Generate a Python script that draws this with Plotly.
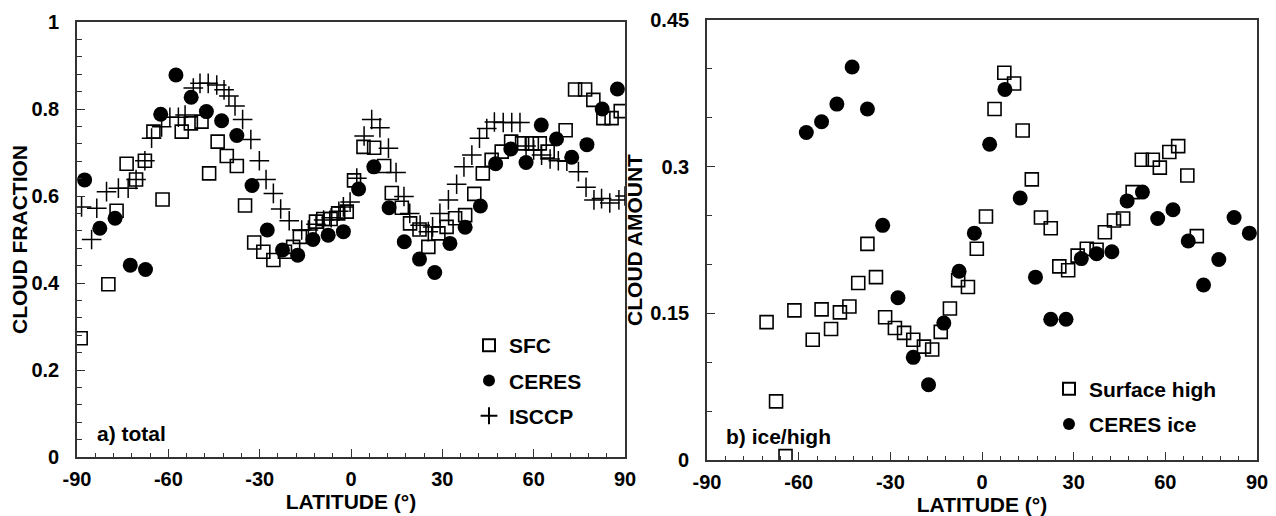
import plotly.graph_objects as go

# ---------------- Panel a) total cloud fraction ----------------
sfc_lat = [-88.8, -79.7, -77.0, -73.7, -70.6, -67.7, -64.9, -61.9, -55.6, -52.6,
           -49.1, -46.6, -43.8, -40.8, -37.5, -34.8, -31.8, -28.8, -25.5, -21.7,
           -19.0, -16.8, -11.5, -9.1, -6.7, -4.2, -1.4, 1.0, 4.1, 7.6,
           10.9, 13.4, 16.7, 19.4, 22.5, 25.4, 28.7, 31.4, 34.2, 37.5,
           40.5, 43.3, 46.2, 49.5, 52.6, 56.2, 59.4, 62.0, 64.6, 70.5,
           73.6, 76.9, 79.6, 82.9, 85.6, 88.6]
sfc_val = [0.273, 0.397, 0.566, 0.674, 0.638, 0.681, 0.748, 0.592, 0.748, 0.767,
           0.771, 0.652, 0.725, 0.692, 0.669, 0.578, 0.493, 0.472, 0.453, 0.472,
           0.483, 0.506, 0.541, 0.547, 0.547, 0.560, 0.564, 0.636, 0.713, 0.711,
           0.669, 0.607, 0.573, 0.537, 0.523, 0.483, 0.514, 0.529, 0.549, 0.556,
           0.605, 0.652, 0.683, 0.702, 0.725, 0.721, 0.721, 0.721, 0.702, 0.751,
           0.845, 0.845, 0.821, 0.779, 0.779, 0.795]

ceres_lat = [-87.5, -82.5, -77.5, -72.5, -67.5, -62.5, -57.5, -52.5, -47.5, -42.5,
             -37.5, -32.5, -27.5, -22.5, -17.5, -12.5, -7.5, -2.5, 2.5, 7.5,
             12.5, 17.5, 22.5, 27.5, 32.5, 37.5, 42.5, 47.5, 52.5, 57.5,
             62.5, 67.5, 72.5, 77.5, 82.5, 87.5]
ceres_val = [0.637, 0.526, 0.549, 0.441, 0.431, 0.788, 0.878, 0.827, 0.794, 0.773,
             0.739, 0.624, 0.522, 0.476, 0.464, 0.500, 0.510, 0.518, 0.616, 0.667,
             0.573, 0.495, 0.455, 0.424, 0.491, 0.528, 0.577, 0.674, 0.708, 0.677,
             0.763, 0.731, 0.689, 0.718, 0.800, 0.846]

isccp_lat = [-88.5, -85.2, -83.5, -80.3, -76.4, -73.2, -70.6, -67.7, -65.5, -62.2,
             -59.5, -56.7, -54.5, -51.8, -49.6, -46.9, -44.1, -41.7, -40.1, -38.1,
             -35.6, -32.9, -30.1, -27.9, -25.5, -23.1, -20.3, -16.2, -14.0, -11.5,
             -9.0, -6.5, -4.0, -2.5, -0.3, 1.9, 4.3, 6.8, 9.5, 12.3,
             14.8, 17.4, 19.3, 22.7, 25.4, 26.8, 29.2, 32.0, 34.7, 37.1,
             39.7, 42.2, 44.6, 47.1, 50.0, 52.8, 55.5, 57.5, 60.0, 62.6,
             65.4, 68.1, 70.9, 74.7, 77.2, 79.8, 82.3, 85.0, 88.0, 90.0]
isccp_val = [0.575, 0.500, 0.572, 0.610, 0.618, 0.618, 0.638, 0.681, 0.733, 0.759,
             0.781, 0.781, 0.786, 0.848, 0.859, 0.859, 0.855, 0.844, 0.830, 0.807,
             0.776, 0.730, 0.681, 0.638, 0.606, 0.570, 0.543, 0.522, 0.522, 0.535,
             0.545, 0.550, 0.565, 0.575, 0.586, 0.641, 0.738, 0.776, 0.757, 0.710,
             0.654, 0.599, 0.560, 0.533, 0.518, 0.529, 0.560, 0.591, 0.627, 0.667,
             0.694, 0.733, 0.755, 0.770, 0.769, 0.769, 0.769, 0.715, 0.706, 0.694,
             0.685, 0.681, 0.680, 0.656, 0.620, 0.591, 0.594, 0.584, 0.591, 0.600]

# ---------------- Panel b) ice / high cloud amount ----------------
sh_lat = [-70.5, -67.4, -64.3, -61.4, -55.4, -52.5, -49.4, -46.5, -43.4, -40.5,
          -37.5, -34.7, -31.7, -28.5, -25.5, -22.5, -19.0, -16.3, -13.5, -10.5,
          -7.8, -4.6, -1.7, 1.3, 4.1, 7.3, 10.5, 13.3, 16.3, 19.3,
          22.5, 25.3, 28.2, 31.3, 34.3, 37.5, 40.2, 43.2, 46.2, 49.3,
          52.3, 55.9, 58.2, 61.3, 64.2, 67.2, 70.3]
sh_val = [0.141, 0.060, 0.004, 0.153, 0.123, 0.154, 0.134, 0.151, 0.157, 0.181,
          0.221, 0.187, 0.146, 0.135, 0.130, 0.123, 0.116, 0.113, 0.131, 0.155,
          0.184, 0.177, 0.216, 0.249, 0.359, 0.396, 0.385, 0.337, 0.287, 0.248,
          0.237, 0.198, 0.194, 0.209, 0.216, 0.215, 0.233, 0.245, 0.247, 0.274,
          0.307, 0.307, 0.299, 0.315, 0.321, 0.291, 0.229]

ice_lat = [-57.5, -52.5, -47.5, -42.5, -37.5, -32.5, -27.5, -22.5, -17.5, -12.5,
           -7.5, -2.5, 2.5, 7.5, 12.5, 17.5, 22.5, 27.5, 32.5, 37.5,
           42.5, 47.5, 52.5, 57.5, 62.5, 67.5, 72.5, 77.5, 82.5, 87.5]
ice_val = [0.335, 0.346, 0.364, 0.402, 0.359, 0.240, 0.166, 0.105, 0.077, 0.140,
           0.193, 0.232, 0.323, 0.379, 0.268, 0.187, 0.144, 0.144, 0.206, 0.211,
           0.213, 0.265, 0.274, 0.247, 0.256, 0.224, 0.179, 0.205, 0.248, 0.232]

x_ticks = [-90, -60, -30, 0, 30, 60, 90]
x_tick_labels = ["-90", "-60", "-30", "0", "30", "60", "90"]
ya_ticks = [0, 0.2, 0.4, 0.6, 0.8, 1]
ya_tick_labels = ["0", "0.2", "0.4", "0.6", "0.8", "1"]
yb_ticks = [0, 0.15, 0.3, 0.45]
yb_tick_labels = ["0", "0.15", "0.3", "0.45"]

FONT = "Liberation Sans, Arial, Helvetica, sans-serif"
INK = "#000000"
AXIS_C = "#333333"
# the page body adds an 8 px margin, so the figure is 8 px smaller than the window
OFF = 8
W, H = 1276 - OFF, 516 - OFF


def px_x(p):
    return (p - OFF) / W


def px_y(p):
    return 1 - (p - OFF) / H


sq = dict(symbol="square-open", size=13, color=INK, line=dict(width=1.6, color=INK))
dot = dict(symbol="circle", size=15, color=INK, line=dict(width=0))
plus = dict(symbol="cross-thin-open", size=14, color=INK, line=dict(width=1.5, color=INK))

fig = go.Figure()
fig.add_trace(go.Scatter(x=sfc_lat, y=sfc_val, mode="markers", name="SFC", marker=sq,
                         xaxis="x", yaxis="y", legend="legend", legendgroup="a1"))
fig.add_trace(go.Scatter(x=ceres_lat, y=ceres_val, mode="markers", name="CERES", marker=dot,
                         xaxis="x", yaxis="y", legend="legend", legendgroup="a2"))
fig.add_trace(go.Scatter(x=isccp_lat, y=isccp_val, mode="markers", name="ISCCP", marker=plus,
                         xaxis="x", yaxis="y", legend="legend", legendgroup="a3"))
fig.add_trace(go.Scatter(x=sh_lat, y=sh_val, mode="markers", name="Surface high", marker=sq,
                         xaxis="x2", yaxis="y2", legend="legend2", legendgroup="b1"))
fig.add_trace(go.Scatter(x=ice_lat, y=ice_val, mode="markers", name="CERES ice", marker=dot,
                         xaxis="x2", yaxis="y2", legend="legend2", legendgroup="b2"))

tickfont = dict(family=FONT, size=20, color=INK, weight="bold")
xtitlefont = dict(family=FONT, size=21, color=INK, weight="bold")
ytitlefont = dict(family=FONT, size=21, color=INK, weight="bold")


def xax(domain, anchor):
    return dict(domain=domain, anchor=anchor, range=[-90, 90],
                tickmode="array", tickvals=x_ticks, ticktext=x_tick_labels,
                ticks="inside", ticklen=8, tickwidth=1.2, tickcolor=AXIS_C,
                minor=dict(dtick=6, tick0=-90, ticks="inside", ticklen=4, tickwidth=1.2,
                           tickcolor=AXIS_C, showgrid=False),
                showline=True, linecolor=AXIS_C, linewidth=1.6, mirror=True,
                showgrid=False, zeroline=False, tickfont=tickfont, automargin=False,
                ticklabelstandoff=3,
                title=dict(text="LATITUDE (°)", font=xtitlefont, standoff=0))


def yax(domain, anchor, rng, tv, tt, mdtick, title):
    return dict(domain=domain, anchor=anchor, range=rng,
                tickmode="array", tickvals=tv, ticktext=tt,
                ticks="inside", ticklen=8, tickwidth=1.2, tickcolor=AXIS_C,
                minor=dict(dtick=mdtick, tick0=0, ticks="inside", ticklen=5, tickwidth=1.2,
                           tickcolor=AXIS_C, showgrid=False),
                showline=True, linecolor=AXIS_C, linewidth=1.6, mirror=True,
                showgrid=False, zeroline=False, tickfont=tickfont, automargin=False,
                ticklabelstandoff=12,
                title=dict(text=title, font=ytitlefont, standoff=2))


legfont = dict(family=FONT, size=21, color=INK, weight="bold")

fig.update_layout(
    width=W, height=H,
    paper_bgcolor="white", plot_bgcolor="white",
    margin=dict(l=0, r=0, t=0, b=0, autoexpand=False),
    showlegend=True,
    xaxis=xax([px_x(77), px_x(625)], "y"),
    yaxis=yax([px_y(457), px_y(22)], "x", [0, 1], ya_ticks, ya_tick_labels, 0.04,
              "CLOUD FRACTION"),
    xaxis2=xax([px_x(707), px_x(1257)], "y2"),
    yaxis2=yax([px_y(460), px_y(20)], "x2", [0, 0.45], yb_ticks, yb_tick_labels, 0.05,
               "CLOUD AMOUNT"),
    legend=dict(x=px_x(469), y=px_y(325), xanchor="left", yanchor="top",
                bgcolor="rgba(0,0,0,0)", font=legfont, itemsizing="constant",
                traceorder="grouped", tracegroupgap=5),
    legend2=dict(x=px_x(1049), y=px_y(368.5), xanchor="left", yanchor="top",
                 bgcolor="rgba(0,0,0,0)", font=legfont, itemsizing="constant",
                 traceorder="grouped", tracegroupgap=5),
    annotations=[
        dict(text="a) total", x=px_x(95), y=px_y(433), xref="paper", yref="paper",
             xanchor="left", yanchor="middle", showarrow=False,
             font=dict(family=FONT, size=21, color=INK, weight="bold")),
        dict(text="b) ice/high", x=px_x(724), y=px_y(436), xref="paper", yref="paper",
             xanchor="left", yanchor="middle", showarrow=False,
             font=dict(family=FONT, size=21, color=INK, weight="bold")),
    ],
)

fig.write_html("out.html")
